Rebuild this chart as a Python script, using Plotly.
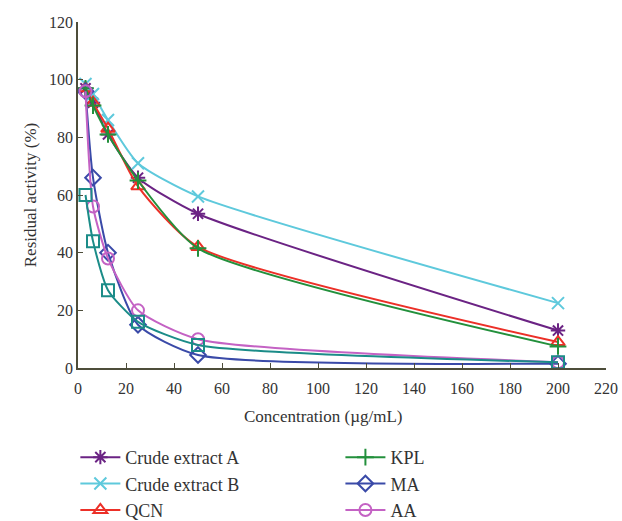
import plotly.graph_objects as go

conc = [3.125, 6.25, 12.5, 25, 50, 200]
crude_a = [97, 92, 81, 66, 53.5, 13]
crude_b = [98.5, 95, 86, 71, 59.5, 22.5]
qcn = [97, 92, 83, 63, 42, 9]
kpl = [97, 91, 81, 65, 41.5, 7.5]
ma = [96, 66, 40, 15, 4.5, 1.5]
aa = [96, 56, 38, 20, 10, 2]
teal_sq = [60, 44, 27, 16, 8, 2]

x_ticks = list(range(0, 221, 20))
y_ticks = list(range(0, 121, 20))

series = [
    ("Crude extract A", crude_a, "#6b2384", "asterisk-open", "legend"),
    ("Crude extract B", crude_b, "#5ec9dc", "x-thin-open", "legend"),
    ("QCN", qcn, "#ec3028", "triangle-up-open", "legend"),
    ("KPL", kpl, "#23903c", "cross-thin-open", "legend2"),
    ("MA", ma, "#3a4aa8", "diamond-open", "legend2"),
    ("AA", aa, "#c462c4", "circle-open", "legend2"),
    ("", teal_sq, "#1b8c88", "square-open", None),
]

fig = go.Figure()
for name, vals, color, sym, leg in series:
    fig.add_trace(go.Scatter(
        x=conc, y=vals, name=name, mode="lines+markers",
        line=dict(color=color, width=2, shape="spline", smoothing=0.6),
        marker=dict(symbol=sym, size=12, color=color, line=dict(color=color, width=2)),
        showlegend=leg is not None,
        legend=leg if leg else "legend",
    ))

font_family = "Liberation Serif, Times New Roman, serif"
axis_color = "#4d4d3a"
txt_color = "#333333"

leg_common = dict(
    orientation="v", yanchor="top", y=-0.205, xanchor="left",
    font=dict(family=font_family, size=18, color=txt_color),
    itemwidth=40, tracegroupgap=0, bgcolor="rgba(0,0,0,0)",
    maxheight=300,
)

fig.update_layout(
    width=622, height=521,
    margin=dict(l=78, r=16, t=22, b=153, autoexpand=False),
    plot_bgcolor="white", paper_bgcolor="white",
    font=dict(family=font_family, size=16, color=txt_color),
    showlegend=True,
    legend=dict(x=-0.005, **leg_common),
    legend2=dict(x=0.497, **leg_common),
    xaxis=dict(
        range=[0, 220], tickvals=x_ticks, ticks="inside", ticklen=5,
        tickcolor=axis_color, showline=True, linecolor=axis_color, linewidth=1.5,
        showgrid=False, zeroline=False, ticklabelstandoff=5,
        tickfont=dict(family=font_family, size=16, color=txt_color),
    ),
    yaxis=dict(
        range=[0, 120], tickvals=y_ticks, ticks="inside", ticklen=5,
        tickcolor=axis_color, showline=True, linecolor=axis_color, linewidth=1.5,
        showgrid=False, zeroline=False,
        title=dict(text="Residual activity (%)", font=dict(family=font_family, size=17, color=txt_color), standoff=8),
        tickfont=dict(family=font_family, size=16, color=txt_color),
    ),
    annotations=[dict(
        text="Concentration (µg/mL)", xref="paper", yref="paper",
        x=(323 - 78) / 528, y=-0.14, xanchor="center", yanchor="middle",
        showarrow=False, font=dict(family=font_family, size=17, color=txt_color),
    )],
)

fig.write_html("out.html")
